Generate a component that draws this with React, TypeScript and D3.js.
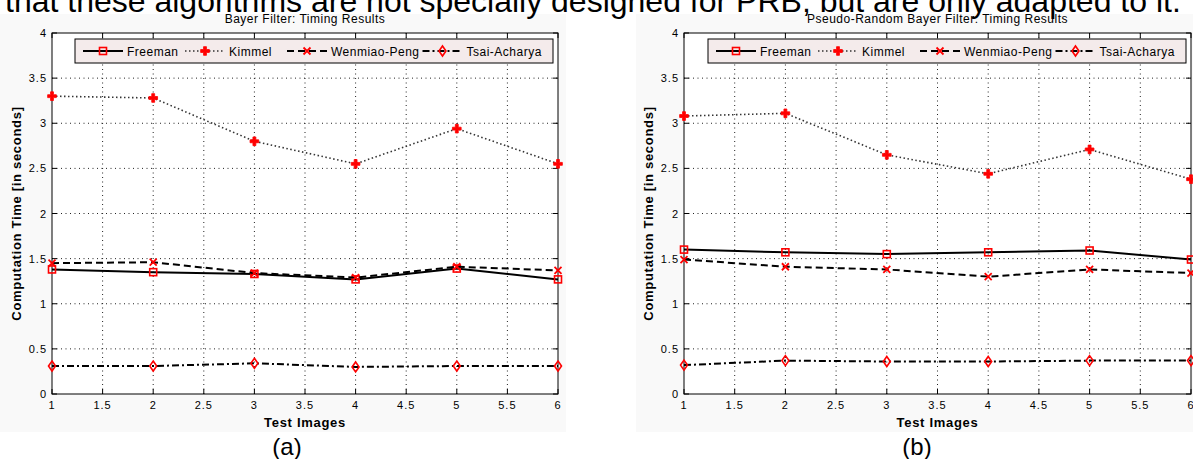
import React, { useEffect, useRef } from "react";
import * as d3 from "d3";

// test image index on the x axis
const testImages = [1, 2, 3, 4, 5, 6];
const xTicks = [1, 1.5, 2, 2.5, 3, 3.5, 4, 4.5, 5, 5.5, 6];
const yTicks = [0, 0.5, 1, 1.5, 2, 2.5, 3, 3.5, 4];
const seriesNames = ["Freeman", "Kimmel", "Wenmiao-Peng", "Tsai-Acharya"];

// (a) Bayer filter timings, seconds
const bayerFreeman = [1.38, 1.35, 1.33, 1.27, 1.39, 1.27];
const bayerKimmel = [3.3, 3.28, 2.8, 2.55, 2.94, 2.55];
const bayerWenmiao = [1.45, 1.46, 1.34, 1.29, 1.41, 1.37];
const bayerTsai = [0.31, 0.31, 0.34, 0.3, 0.31, 0.31];

// (b) pseudo-random Bayer filter timings, seconds
const prbFreeman = [1.6, 1.57, 1.55, 1.57, 1.59, 1.49];
const prbKimmel = [3.08, 3.11, 2.65, 2.44, 2.71, 2.38];
const prbWenmiao = [1.49, 1.41, 1.38, 1.3, 1.38, 1.34];
const prbTsai = [0.32, 0.37, 0.36, 0.36, 0.37, 0.37];

const FONT = "'Liberation Sans', Arial, Helvetica, sans-serif";
const RED = "#ff0000";

const lineStyles = [
  { dash: null, width: 2, color: "#000", marker: "square" },
  { dash: "1.5,2.5", width: 1.6, color: "#333", marker: "star" },
  { dash: "7,4", width: 2, color: "#000", marker: "x" },
  { dash: "7,3,2,3", width: 2, color: "#000", marker: "diamond" },
];

const drawMarker = (g, type, cx, cy) => {
  if (type === "square") {
    g.append("rect")
      .attr("x", cx - 3.5).attr("y", cy - 3.5)
      .attr("width", 7).attr("height", 7)
      .attr("fill", "none").attr("stroke", RED).attr("stroke-width", 1.6);
  } else if (type === "star") {
    g.append("path")
      .attr("transform", `translate(${cx},${cy})`)
      .attr("d", d3.symbol(d3.symbolCross, 42)())
      .attr("fill", RED).attr("stroke", RED).attr("stroke-width", 0.8);
  } else if (type === "x") {
    g.append("path")
      .attr("d", `M${cx - 3.5},${cy - 3.5}L${cx + 3.5},${cy + 3.5}M${cx - 3.5},${cy + 3.5}L${cx + 3.5},${cy - 3.5}`)
      .attr("stroke", RED).attr("stroke-width", 1.8).attr("fill", "none");
  } else {
    g.append("path")
      .attr("d", `M${cx},${cy - 5}L${cx + 3.5},${cy}L${cx},${cy + 5}L${cx - 3.5},${cy}Z`)
      .attr("stroke", RED).attr("stroke-width", 1.6).attr("fill", "none");
  }
};

const drawPanel = (svg, cfg) => {
  const top = 33;
  const bottom = 394;
  const x = d3.scaleLinear().domain([1, 6]).range([cfg.left, cfg.right]);
  const y = d3.scaleLinear().domain([0, 4]).range([bottom, top]);
  const g = svg.append("g");

  // figure background + white axes area
  g.append("rect")
    .attr("x", cfg.bgLeft).attr("y", 14)
    .attr("width", cfg.bgRight - cfg.bgLeft).attr("height", 432 - 14)
    .attr("fill", "#f9f9f9");
  g.append("rect")
    .attr("x", cfg.left).attr("y", top)
    .attr("width", cfg.right - cfg.left).attr("height", bottom - top)
    .attr("fill", "#fff");

  // dotted grid
  g.selectAll(".vgrid")
    .data(xTicks.slice(1, -1))
    .join("line")
    .attr("x1", d => x(d)).attr("x2", d => x(d))
    .attr("y1", top).attr("y2", bottom)
    .attr("stroke", "#222").attr("stroke-width", 1)
    .attr("stroke-dasharray", "1,3.5");
  g.selectAll(".hgrid")
    .data(yTicks.slice(1, -1))
    .join("line")
    .attr("x1", cfg.left).attr("x2", cfg.right)
    .attr("y1", d => y(d)).attr("y2", d => y(d))
    .attr("stroke", "#222").attr("stroke-width", 1)
    .attr("stroke-dasharray", "1,3.5");

  // inward ticks on all four sides
  const tl = 5;
  xTicks.forEach(t => {
    g.append("line").attr("x1", x(t)).attr("x2", x(t)).attr("y1", bottom).attr("y2", bottom - tl).attr("stroke", "#000");
    g.append("line").attr("x1", x(t)).attr("x2", x(t)).attr("y1", top).attr("y2", top + tl).attr("stroke", "#000");
  });
  yTicks.forEach(t => {
    g.append("line").attr("x1", cfg.left).attr("x2", cfg.left + tl).attr("y1", y(t)).attr("y2", y(t)).attr("stroke", "#000");
    g.append("line").attr("x1", cfg.right).attr("x2", cfg.right - tl).attr("y1", y(t)).attr("y2", y(t)).attr("stroke", "#000");
  });

  g.append("rect")
    .attr("x", cfg.left).attr("y", top)
    .attr("width", cfg.right - cfg.left).attr("height", bottom - top)
    .attr("fill", "none").attr("stroke", "#000").attr("stroke-width", 1);

  // tick labels
  g.selectAll(".xlab")
    .data(xTicks)
    .join("text")
    .attr("x", d => x(d)).attr("y", 409)
    .attr("text-anchor", "middle")
    .style("font", `11px ${FONT}`).style("letter-spacing", "1px")
    .text(d => d3.format("")(d));
  g.selectAll(".ylab")
    .data(yTicks)
    .join("text")
    .attr("x", cfg.left - 5).attr("y", d => y(d) + 4)
    .attr("text-anchor", "end")
    .style("font", `11px ${FONT}`).style("letter-spacing", "1px")
    .text(d => d3.format("")(d));

  // series
  const line = d3.line().x((d, i) => x(testImages[i])).y(d => y(d));
  cfg.series.forEach((vals, si) => {
    const st = lineStyles[si];
    g.append("path")
      .attr("d", line(vals))
      .attr("fill", "none")
      .attr("stroke", st.color)
      .attr("stroke-width", st.width)
      .attr("stroke-dasharray", st.dash);
    vals.forEach((v, i) => drawMarker(g, st.marker, x(testImages[i]), y(v)));
  });

  // legend
  const lw = 478;
  const lx = cfg.right - 5 - lw;
  const ly = 39;
  g.append("rect")
    .attr("x", lx).attr("y", ly).attr("width", lw).attr("height", 24)
    .attr("fill", "#f4ebeb").attr("stroke", "#000").attr("stroke-width", 1);
  const itemStarts = [8, 110, 212, 347.5];
  seriesNames.forEach((name, si) => {
    const st = lineStyles[si];
    const sx = lx + itemStarts[si];
    const cy = ly + 12;
    g.append("line")
      .attr("x1", sx).attr("x2", sx + 40).attr("y1", cy).attr("y2", cy)
      .attr("stroke", st.color).attr("stroke-width", st.width)
      .attr("stroke-dasharray", st.dash);
    drawMarker(g, st.marker, sx + 20, cy);
    g.append("text")
      .attr("x", sx + 44).attr("y", cy + 4.5)
      .style("font", `12px ${FONT}`).style("letter-spacing", "0.5px")
      .text(name);
  });

  // titles
  g.append("text")
    .attr("x", (cfg.left + cfg.right) / 2).attr("y", 23)
    .attr("text-anchor", "middle")
    .style("font", `12px ${FONT}`).style("letter-spacing", "0.5px")
    .text(cfg.title);
  g.append("text")
    .attr("x", (cfg.left + cfg.right) / 2).attr("y", 427)
    .attr("text-anchor", "middle")
    .style("font", `bold 13px ${FONT}`).style("letter-spacing", "0.7px")
    .text("Test Images");
  g.append("text")
    .attr("transform", `translate(${cfg.left - 31},${(top + bottom) / 2}) rotate(-90)`)
    .attr("text-anchor", "middle")
    .style("font", `bold 13px ${FONT}`).style("letter-spacing", "0.7px")
    .text("Computation Time [in seconds]");
  g.append("text")
    .attr("x", cfg.capX).attr("y", 455)
    .attr("text-anchor", "middle")
    .style("font", `24px ${FONT}`)
    .text(cfg.caption);
};

const App = () => {
  const svgRef = useRef(null);

  useEffect(() => {
    const svg = d3.select(svgRef.current);
    svg.selectAll("*").remove();

    drawPanel(svg, {
      left: 52, right: 558, bgLeft: 0, bgRight: 566, capX: 287,
      title: "Bayer Filter: Timing Results", caption: "(a)",
      series: [bayerFreeman, bayerKimmel, bayerWenmiao, bayerTsai],
    });
    drawPanel(svg, {
      left: 684, right: 1191, bgLeft: 636, bgRight: 1193, capX: 917,
      title: "Pseudo-Random Bayer Filter: Timing Results", caption: "(b)",
      series: [prbFreeman, prbKimmel, prbWenmiao, prbTsai],
    });

    // sentence from the surrounding page, cut at the top
    svg.append("text")
      .attr("x", 5).attr("y", 12)
      .style("font", `32px ${FONT}`)
      .text("that these algorithms are not specially designed for PRB, but are only adapted to it.");
  }, []);

  return (
    <div style={{ position: "absolute", left: 0, top: 0 }}>
      <svg ref={svgRef} width={1193} height={459} style={{ display: "block", background: "#fff" }} />
    </div>
  );
};

export default App;
